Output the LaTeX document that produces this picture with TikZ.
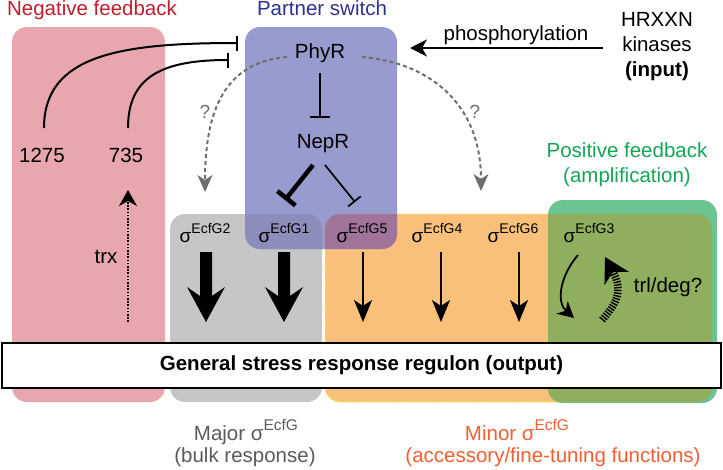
\documentclass[tikz,border=0pt]{standalone}
\usepackage{fontspec}
\setmainfont{Liberation Sans}
\usetikzlibrary{arrows.meta}
\definecolor{redbox}{RGB}{232,166,174}
\definecolor{bluebox}{RGB}{152,155,205}
\definecolor{graybox}{RGB}{198,198,198}
\definecolor{orangebox}{RGB}{248,192,122}
\definecolor{greenbox}{RGB}{108,196,146}
\definecolor{olivebox}{RGB}{143,174,94}
\definecolor{bluegray}{RGB}{140,141,186}
\definecolor{mauve}{RGB}{160,116,152}
\definecolor{negred}{RGB}{190,30,45}
\definecolor{partblue}{RGB}{46,49,146}
\definecolor{posgreen}{RGB}{20,165,85}
\definecolor{minorange}{RGB}{238,95,50}
\definecolor{majgray}{RGB}{90,90,92}
\definecolor{qgray}{RGB}{110,110,110}
\definecolor{dashyellow}{RGB}{255,236,90}
\newcommand\bigtxt{\fontsize{20.5}{25}\selectfont}
\newcommand\sigl[1]{{\fontsize{19}{19}\selectfont σ}\raisebox{9pt}{\fontsize{14}{14}\selectfont Ecf#1}}
\newcommand\sigbig{σ\raisebox{10pt}{\fontsize{15.5}{15.5}\selectfont EcfG}}
\begin{document}
\begin{tikzpicture}[x=1pt,y=-1pt,
  txt/.style={font=\bigtxt, inner sep=0pt, anchor=base},
  siglab/.style={inner sep=0pt, anchor=base},
  inhib/.style={line width=1.7pt, -{Bar[width=20pt]}},
  qarrow/.style={qgray, line width=2pt, dash pattern=on 4pt off 3pt, -{Stealth[length=17pt,width=15pt,inset=5pt]}},
  thinarrow/.style={line width=2pt, -{Stealth[length=22pt,width=18pt,inset=6pt]}},
  fatarrow/.pic={\fill (-6,0) -- (6,0) -- (6,44) -- (19,35) -- (0,70) -- (-19,35) -- (-6,44) -- cycle;}
]
\useasboundingbox (0,0) rectangle (723,469);

% boxes
\fill[redbox, rounded corners=15pt] (12,27) rectangle (165,402);
\fill[graybox, rounded corners=15pt] (170,214) rectangle (322,402);
\fill[orangebox, rounded corners=15pt] (325,214) rectangle (712,402);
\draw[dashyellow, line width=1pt, dash pattern=on 3pt off 2pt, rounded corners=15pt] (325,214) rectangle (712,402);
\fill[greenbox, rounded corners=15pt] (548,200) rectangle (717,403);
\begin{scope}
  \clip[rounded corners=15pt] (548,200) rectangle (717,403);
  \fill[olivebox, rounded corners=15pt] (325,214) rectangle (712,402);
\end{scope}
\fill[bluebox, rounded corners=15pt] (245,27) rectangle (397,249);
\begin{scope}
  \clip[rounded corners=15pt] (245,27) rectangle (397,249);
  \fill[bluegray, rounded corners=15pt] (170,214) rectangle (322,402);
  \fill[mauve, rounded corners=15pt] (325,214) rectangle (712,402);
\end{scope}

% titles
\node[txt, negred] (negfb) at (92,15.5) {Negative feedback};
\node[txt, partblue] (partner) at (322,15.5) {Partner switch};
\node[txt] (phos) at (516,40) {phosphorylation};
\node[txt, align=center, anchor=north] (kin) at (657,12) {HRXXN\\kinases\\\textbf{(input)}};
\node[txt, posgreen, align=center, anchor=north] (posfb) at (627,142) {Positive feedback\\(amplification)};
\node[txt, majgray] (major) at (246,440) {Major \sigbig};
\node[txt, majgray] (majorb) at (245,462) {(bulk response)};
\node[txt, minorange] (minor) at (517,440) {Minor \sigbig};
\node[txt, minorange] (minorb) at (553,462) {(accessory/fine-tuning functions)};

% core nodes
\node[txt] (phyr) at (320,58) {PhyR};
\node[txt] (nepr) at (323,148) {NepR};
\node[txt] (n1275) at (42,162) {1275};
\node[txt] (n735) at (126,162) {735};
\node[txt] (trx) at (106,263) {trx};
\node[txt, qgray, font=\fontsize{19}{19}\selectfont] (q1) at (205,118) {?};
\node[txt, qgray, font=\fontsize{19}{19}\selectfont] (q2) at (475,118) {?};
\node[txt] (trl) at (668,292) {trl/deg?};

% sigma labels
\node[siglab] (s2) at (205,242) {\sigl{G2}};
\node[siglab] (s1) at (284,242) {\sigl{G1}};
\node[siglab] (s5) at (362,242) {\sigl{G5}};
\node[siglab] (s4) at (437,242) {\sigl{G4}};
\node[siglab] (s6) at (513,242) {\sigl{G6}};
\node[siglab] (s3) at (589,242) {\sigl{G3}};

% output
\node[draw, line width=1.6pt, fill=white, minimum width=719pt, minimum height=45pt, inner sep=0pt,
      font=\bigtxt\bfseries] (out) at (361.5,365.5) {General stress response regulon (output)};

% phosphorylation arrow
\coordinate (phosS) at (603,48);
\coordinate (phosE) at (410,48);
\draw[line width=2pt, -{Stealth[length=17pt,width=17pt,inset=5pt]}] (phosS) -- (phosE);

% PhyR -| NepR
\coordinate (pA) at (320,73);
\coordinate (pB) at (320,118);
\draw[inhib] (pA) -- (pB);

% NepR -| sigmas
\coordinate (nA) at (313,165);
\coordinate (nB) at (285,200);
\draw[line width=4.5pt, -{Bar[width=23pt]}] (nA) -- (nB);
\coordinate (nC) at (325,165);
\coordinate (nD) at (355,202);
\draw[line width=1.7pt, -{Bar[width=16pt]}] (nC) -- (nD);

% negative feedback curves
\coordinate (c1) at (44,128);
\coordinate (c1e) at (238,43);
\draw[line width=2pt, -{Bar[width=15pt]}] (c1) .. controls (44,55) and (120,43) .. (c1e);
\coordinate (c2) at (128,128);
\coordinate (c2e) at (229,60);
\draw[line width=2pt, -{Bar[width=15pt]}] (c2) .. controls (128,78) and (160,60) .. (c2e);

% trx dotted arrow
\coordinate (tA) at (128,322);
\coordinate (tB) at (128,190);
\draw[line width=1.6pt, dash pattern=on 1.6pt off 1.6pt, -{Stealth[length=16pt,width=18pt,inset=5pt]}] (tA) -- (tB);

% dashed question arrows
\coordinate (dL) at (287,57);
\coordinate (dLe) at (205,192);
\draw[qarrow] (dL) .. controls (225,62) and (205,110) .. (dLe);
\coordinate (dR) at (362,57);
\coordinate (dRe) at (481,191);
\draw[qarrow] (dR) .. controls (425,62) and (481,100) .. (dRe);

% major arrows
\pic at (206,252) {fatarrow};
\pic at (284,252) {fatarrow};

% minor arrows
\foreach \xx/\nm in {363/a5,441/a4,519/a6}{
  \coordinate (\nm s) at (\xx,252);
  \coordinate (\nm e) at (\xx,322);
  \draw[thinarrow] (\nm s) -- (\nm e);
}

% sigma G3 loop
\coordinate (lA) at (578,255);
\coordinate (lB) at (574,318);
\draw[line width=1.8pt, -{Stealth[length=16pt,width=17pt,inset=5pt]}] (lA) .. controls (560,276) and (556,302) .. (lB);
\coordinate (hA) at (602,320);
\coordinate (hB) at (605,257);
\draw[line width=7.5pt, dash pattern=on 1.4pt off 1.4pt, -{Stealth[length=24pt,width=27pt,inset=7pt]}] (hA) .. controls (616,304) and (624,292) .. (hB);
\end{tikzpicture}
\end{document}
